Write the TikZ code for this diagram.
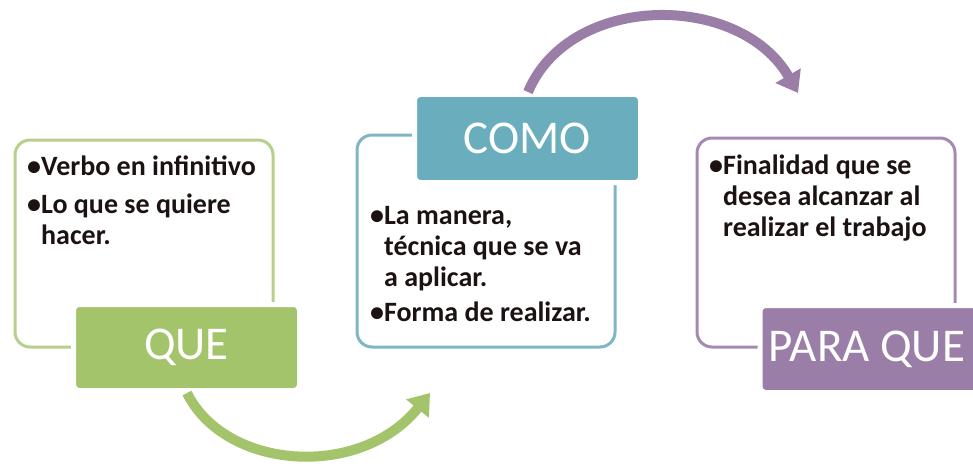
\documentclass[tikz,border=0pt]{standalone}
\usepackage{fontspec}
\setmainfont{Carlito}
\usetikzlibrary{arrows.meta}
\definecolor{gfill}{RGB}{163,196,106}
\definecolor{gline}{RGB}{182,207,140}
\definecolor{tfill}{RGB}{106,174,190}
\definecolor{tline}{RGB}{126,182,198}
\definecolor{pfill}{RGB}{155,126,168}
\definecolor{pline}{RGB}{164,138,176}
\definecolor{txt}{RGB}{28,18,18}
\tikzset{
  panel/.style={draw=#1, line width=3pt, rounded corners=15pt, inner sep=0pt},
  tag/.style={fill=#1, draw=white, line width=5pt, rounded corners=6pt, text=white,
    font=\fontsize{47}{56}\selectfont, inner sep=0pt},
  body/.style={anchor=north west, align=left, inner sep=0pt, text=txt,
    font=\bfseries\fontsize{28}{31}\selectfont},
  flow/.style={draw=#1, line width=10pt, -{Triangle[width=28pt,length=20pt]}}
}
\begin{document}
\begin{tikzpicture}[x=1pt,y=-1pt]
\useasboundingbox (0,0) rectangle (973,468);
% panels
\draw[panel=gline] (15,140) rectangle (273,347);
\draw[panel=tline] (357,135) rectangle (615,347);
\draw[panel=pline] (697,138) rectangle (955,347);
% texts
\node[body] (t1) at (27,156) {•Verbo en infinitivo\\[7pt]•Lo que se quiere\\\hphantom{•}hacer.};
\node[body] (t2) at (370,206) {•La manera,\\\hphantom{•}técnica que se va\\\hphantom{•}a aplicar.\\[4pt]•Forma de realizar.};
\node[body] (t3) at (709,155) {•Finalidad que se\\\hphantom{•}desea alcanzar al\\\hphantom{•}realizar el trabajo};
% tags
\node[tag=gfill, minimum width=226pt, minimum height=86pt] (que) at (186.5,347.5) {QUE};
\node[tag=tfill, minimum width=226pt, minimum height=88pt] (como) at (527.5,138.5) {COMO};
\node[tag=pfill, minimum width=226pt, minimum height=87pt, anchor=west] (para) at (757.5,349) {\hspace*{-12pt}PARA QUE};
% arrows
\coordinate (g1) at (187,393);
\coordinate (g2) at (430,393);
\coordinate (p1) at (528,92);
\coordinate (p2) at (798,93);
\draw[flow=gfill] (g1) .. controls (225,470) and (360,480) .. (g2);
\draw[flow=pfill] (p1) .. controls (570,-8) and (740,-8) .. (p2);
\end{tikzpicture}
\end{document}
